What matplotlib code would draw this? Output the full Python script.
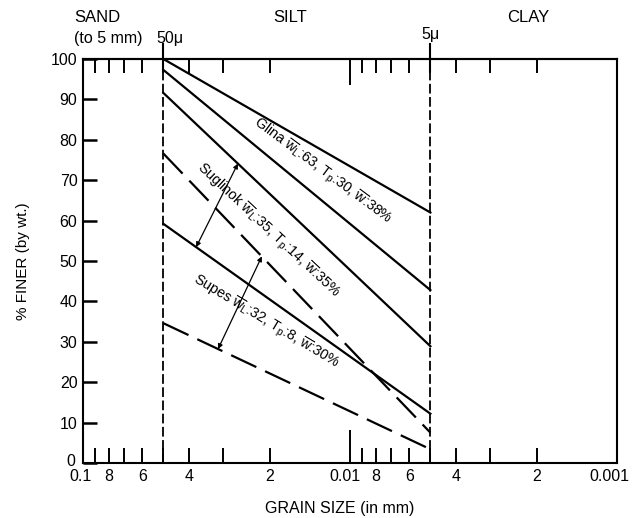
"""
grain_size.py

Grain-size curves (percent finer vs. grain size) for Glina, Suglinok and
Supes soils, drawn on a reversed log axis between the 50 and 5 micron limits.
"""

import numpy as np
import matplotlib
matplotlib.use("Agg")
import matplotlib.pyplot as plt
from matplotlib.transforms import ScaledTranslation

# --- data -----------------------------------------------------------------
grain_mm = [0.05, 0.005]            # 50 micron -> 5 micron

glina_upper = [100, 62]
glina_lower = [97.3, 42.8]
suglinok_upper = [91.6, 28.9]
suglinok_lower = [59.2, 12.2]
supes_upper = [76.6, 7.5]
supes_lower = [34.6, 3.4]

pct_ticks = [0, 10, 20, 30, 40, 50, 60, 70, 80, 90, 100]
major_mm = [0.1, 0.01, 0.001]
major_labels = ["0.1", "0.01", "0.001"]
minor_mm = [0.09, 0.08, 0.07, 0.06, 0.05, 0.04, 0.03, 0.02,
            0.009, 0.008, 0.007, 0.006, 0.005, 0.004, 0.003, 0.002]
minor_labels = ["", "8", "", "6", "", "4", "", "2",
                "", "8", "", "6", "", "4", "", "2"]

glina_text = r"Glina $\overline{w}_L$:63, $T_p$:30, $\overline{w}$:38%"
suglinok_text = r"Suglinok $\overline{w}_L$:35, $T_p$:14, $\overline{w}$:35%"
supes_text = r"Supes $\overline{w}_L$:32, $T_p$:8, $\overline{w}$:30%"

plt.rcParams["font.family"] = ["Liberation Sans", "DejaVu Sans"]
plt.rcParams["mathtext.fontset"] = "custom"
plt.rcParams["mathtext.rm"] = "Liberation Sans"
plt.rcParams["mathtext.default"] = "rm"
plt.rcParams["lines.scale_dashes"] = False


def on_line(vals, x):
    """y of a straight (log-x) curve at grain size x."""
    t = np.log10(grain_mm[0] / x) / np.log10(grain_mm[0] / grain_mm[1])
    return vals[0] + t * (vals[1] - vals[0])


def nudge(fig, label, dx, dy):
    """Shift a text by (dx, dy) pixels."""
    label.set_transform(label.get_transform()
                        + ScaledTranslation(dx / fig.dpi, dy / fig.dpi,
                                            fig.dpi_scale_trans))


def plot_chart():
    fig = plt.figure(figsize=(6.35, 5.18), dpi=100)
    ax = fig.add_axes([0.1307, 0.1062, 0.8410, 0.7799])
    ax.set_xscale("log")
    ax.set_xlim(0.1, 0.001)
    ax.set_ylim(0, 100)

    for s in ax.spines.values():
        s.set_linewidth(1.5)

    lw = 1.6
    ax.plot(grain_mm, glina_upper, color="k", lw=lw)
    ax.plot(grain_mm, glina_lower, color="k", lw=lw)
    ax.plot(grain_mm, suglinok_upper, color="k", lw=lw)
    ax.plot(grain_mm, suglinok_lower, color="k", lw=lw)
    ax.plot(grain_mm, supes_upper, color="k", lw=lw, linestyle=(0, (20, 7)))
    ax.plot(grain_mm, supes_lower, color="k", lw=lw, linestyle=(0, (20, 7)))

    # 50 micron and 5 micron boundaries
    for g in grain_mm:
        ax.plot([g, g], [0, 97], color="k", lw=1.3, linestyle=(0, (7, 2.5)))
        ax.plot([g, g], [97, 103.6], color="k", lw=1.5, clip_on=False)

    # range arrows
    for xa, xb, top, bot in [(0.0263, 0.0377, suglinok_upper, suglinok_lower),
                             (0.0214, 0.0312, supes_upper, supes_lower)]:
        ax.annotate("", xy=(xb, on_line(bot, xb)), xytext=(xa, on_line(top, xa)),
                    arrowprops=dict(arrowstyle="<|-|>", color="k", lw=0.9,
                                    mutation_scale=7, shrinkA=0, shrinkB=0))

    ax.text(0.0127, 72.3, glina_text, rotation=-36.5, rotation_mode="anchor",
            ha="center", va="center", fontsize=10.3)
    ax.text(0.0203, 57.6, suglinok_text, rotation=-43, rotation_mode="anchor",
            ha="center", va="center", fontsize=10.3)
    ax.text(0.0207, 35.0, supes_text, rotation=-31, rotation_mode="anchor",
            ha="center", va="center", fontsize=10.3)

    # ticks
    ax.set_yticks(pct_ticks)
    ax.tick_params(axis="y", direction="in", length=10, width=1.8, pad=4,
                   labelsize=11.5, right=False)
    ax.set_xticks(major_mm, major_labels)
    ax.set_xticks(minor_mm, minor_labels, minor=True)
    ax.tick_params(axis="x", which="both", direction="in", width=1.4,
                   pad=4, labelsize=11.5, top=False)
    ax.tick_params(axis="x", which="major", length=24)
    ax.tick_params(axis="x", which="minor", length=11)

    sec = ax.secondary_xaxis("top")
    sec.set_xticks(major_mm)
    sec.set_xticks(minor_mm, minor=True)
    sec.tick_params(which="both", direction="in", width=1.4, labeltop=False)
    sec.tick_params(which="major", length=19)
    sec.tick_params(which="minor", length=10)
    sec.spines["top"].set_linewidth(1.5)

    # label placement as printed
    xl = ax.get_xticklabels()
    nudge(fig, xl[0], -2, 0)
    nudge(fig, xl[1], -5, 0)
    nudge(fig, xl[2], -8, 0)
    nudge(fig, ax.get_yticklabels()[0], -2, 3)

    ax.set_ylabel("% FINER (by wt.)", fontsize=11, labelpad=15)
    fig.text(340 / 635, 1 - 508 / 518, "GRAIN SIZE (in mm)", ha="center",
             va="center", fontsize=11.5)

    # size classes above the frame
    fig.text(74 / 635, 1 - 17 / 518, "SAND", ha="left", va="center", fontsize=12)
    fig.text(74 / 635, 1 - 39 / 518, "(to 5 mm)", ha="left", va="center", fontsize=11.5)
    fig.text(170 / 635, 1 - 38 / 518, "50\u03bc", ha="center", va="center", fontsize=11.5)
    fig.text(290 / 635, 1 - 17 / 518, "SILT", ha="center", va="center", fontsize=12)
    fig.text(431 / 635, 1 - 35 / 518, "5\u03bc", ha="center", va="center", fontsize=11.5)
    fig.text(528 / 635, 1 - 18 / 518, "CLAY", ha="center", va="center", fontsize=12)

    fig.savefig("out.png", dpi=100)


if __name__ == "__main__":
    plot_chart()
